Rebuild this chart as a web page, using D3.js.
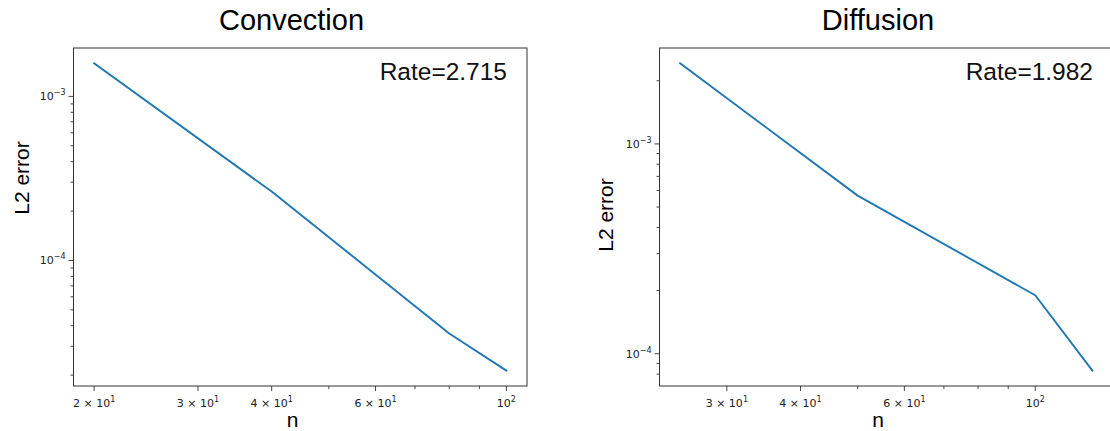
<!DOCTYPE html>
<html>
<head>
<meta charset="utf-8">
<script src="https://cdn.jsdelivr.net/npm/d3@7"></script>
<style>
  body { margin: 0; background: #fff; }
  svg { display: block; }
</style>
</head>
<body>
<svg id="chart" width="1110" height="431"></svg>
<script>
// Convergence data: grid size n vs. L2 error
const convectionN = [20, 40, 80, 100];
const convectionErr = [1.59e-3, 2.63e-4, 3.59e-5, 2.13e-5];
const diffusionN = [25, 50, 100, 125];
const diffusionErr = [2.42e-3, 5.67e-4, 1.90e-4, 8.31e-5];

const convectionRate = "Rate=2.715";
const diffusionRate = "Rate=1.982";

// Labelled ticks on each axis
const convectionXLabels = [20, 30, 40, 60, 100];
const diffusionXLabels = [30, 40, 60, 100];
const yLabels = [1e-3, 1e-4];

const svg = d3.select("#chart");
const lineColor = "#1f77b4";
const tickFont = "'DejaVu Sans', sans-serif";
const textFont = "'Liberation Sans', Arial, sans-serif";

// log-range with 5% padding (in log space) around the data
function paddedDomain(vals) {
  const lo = Math.log10(d3.min(vals)), hi = Math.log10(d3.max(vals));
  const pad = (hi - lo) * 0.05;
  return [Math.pow(10, lo - pad), Math.pow(10, hi + pad)];
}

// every 1..9 x 10^k value that falls inside the domain
function logTicks(domain) {
  const out = [];
  const k0 = Math.floor(Math.log10(domain[0])), k1 = Math.ceil(Math.log10(domain[1]));
  for (let k = k0; k <= k1; k++) {
    for (let m = 1; m <= 9; m++) {
      const v = m * Math.pow(10, k);
      if (v >= domain[0] * 0.9999 && v <= domain[1] * 1.0001) out.push(v);
    }
  }
  return out;
}

function isDecade(v) {
  const e = Math.log10(v);
  return Math.abs(e - Math.round(e)) < 1e-9;
}

// writes "m × 10^e" or "10^e" into a text element
function sciLabel(sel, v) {
  const e = Math.floor(Math.log10(v) + 1e-9);
  const m = Math.round(v / Math.pow(10, e));
  const base = m === 1 ? "10" : m + " \u00d7 10";
  sel.append("tspan").text(base);
  sel.append("tspan")
    .attr("font-size", 8)
    .attr("dy", -5)
    .text(String(e).replace("-", "\u2212"));
}

function panel(cfg) {
  const x = d3.scaleLog().domain(paddedDomain(cfg.n)).range([cfg.left, cfg.right]);
  const y = d3.scaleLog().domain(paddedDomain(cfg.err)).range([cfg.bottom, cfg.top]);
  const g = svg.append("g");

  // x ticks
  const xt = logTicks(x.domain());
  g.selectAll(".xtick").data(xt).enter().append("line")
    .attr("x1", d => x(d)).attr("x2", d => x(d))
    .attr("y1", cfg.bottom).attr("y2", d => cfg.bottom + (cfg.xLabels.includes(d) || isDecade(d) ? 5 : 3))
    .attr("stroke", "#333").attr("stroke-width", 0.9);
  g.selectAll(".xlab").data(cfg.xLabels).enter().append("text")
    .attr("x", d => x(d)).attr("y", cfg.bottom + 21)
    .attr("text-anchor", "middle")
    .attr("font-family", tickFont).attr("font-size", 11).attr("fill", "#222")
    .each(function (d) { sciLabel(d3.select(this), d); });

  // y ticks
  const yt = logTicks(y.domain());
  g.selectAll(".ytick").data(yt).enter().append("line")
    .attr("y1", d => y(d)).attr("y2", d => y(d))
    .attr("x1", cfg.left).attr("x2", d => cfg.left - (isDecade(d) ? 5 : 3))
    .attr("stroke", "#333").attr("stroke-width", 0.9);
  g.selectAll(".ylab").data(yLabels.filter(v => v >= y.domain()[0] && v <= y.domain()[1]))
    .enter().append("text")
    .attr("x", cfg.left - 8).attr("y", d => y(d) + 4)
    .attr("text-anchor", "end")
    .attr("font-family", tickFont).attr("font-size", 11).attr("fill", "#222")
    .each(function (d) { sciLabel(d3.select(this), d); });

  // data line
  const pts = cfg.n.map((v, i) => [v, cfg.err[i]]);
  g.append("path")
    .attr("d", d3.line().x(d => x(d[0])).y(d => y(d[1]))(pts))
    .attr("fill", "none").attr("stroke", lineColor).attr("stroke-width", 1.9)
    .attr("stroke-linejoin", "round").attr("stroke-linecap", "square");

  // frame
  g.append("rect")
    .attr("x", cfg.left).attr("y", cfg.top)
    .attr("width", cfg.right - cfg.left).attr("height", cfg.bottom - cfg.top)
    .attr("fill", "none").attr("stroke", "#333").attr("stroke-width", 1);

  // rate annotation
  g.append("text")
    .attr("x", cfg.right - 20).attr("y", cfg.top + 32)
    .attr("text-anchor", "end")
    .attr("font-family", textFont).attr("font-size", 24.5).attr("fill", "#111")
    .text(cfg.rate);

  // title
  g.append("text")
    .attr("x", cfg.titleX).attr("y", 29.5)
    .attr("text-anchor", "middle")
    .attr("font-family", textFont).attr("font-size", 29).attr("fill", "#000")
    .text(cfg.title);

  // axis labels
  g.append("text")
    .attr("transform", `translate(${cfg.yLabelX},${cfg.yLabelY}) rotate(-90)`)
    .attr("text-anchor", "middle")
    .attr("font-family", textFont).attr("font-size", 21).attr("fill", "#000")
    .text("L2 error");
  g.append("text")
    .attr("x", cfg.xLabelX).attr("y", 426.5)
    .attr("text-anchor", "middle")
    .attr("font-family", textFont).attr("font-size", 21).attr("fill", "#000")
    .text("n");
}

panel({
  n: convectionN, err: convectionErr, xLabels: convectionXLabels,
  left: 73.5, right: 527, top: 48, bottom: 386,
  title: "Convection", titleX: 291.5, rate: convectionRate,
  yLabelX: 28.5, yLabelY: 178, xLabelX: 292.5
});

panel({
  n: diffusionN, err: diffusionErr, xLabels: diffusionXLabels,
  left: 659.5, right: 1113, top: 48, bottom: 386,
  title: "Diffusion", titleX: 878, rate: diffusionRate,
  yLabelX: 613, yLabelY: 215, xLabelX: 878
});
</script>
</body>
</html>
